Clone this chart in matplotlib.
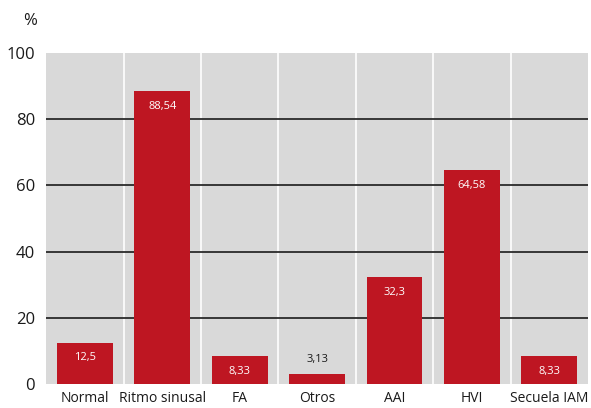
import matplotlib.pyplot as plt

categorias = ["Normal", "Ritmo sinusal", "FA", "Otros", "AAI", "HVI", "Secuela IAM"]
valores = [12.5, 88.54, 8.33, 3.13, 32.3, 64.58, 8.33]
etiquetas = ["12,5", "88,54", "8,33", "3,13", "32,3", "64,58", "8,33"]
yticks = [0, 20, 40, 60, 80, 100]

plt.rcParams["font.family"] = ["Open Sans", "DejaVu Sans"]

rojo = "#be1622"
fig = plt.figure(figsize=(5.91, 4.08), dpi=100)
ax = fig.add_axes([0.078, 0.059, 0.917, 0.811])
ax.set_facecolor("#d9d9d9")

x = list(range(len(categorias)))
ax.bar(x, valores, width=0.72, color=rojo, zorder=3)

# separadores blancos entre categorias
for i in range(1, len(categorias)):
    ax.axvline(i - 0.5, color="white", lw=1.2, zorder=1)
for yv in yticks[1:-1]:
    ax.axhline(yv, color="#2a2a2a", lw=1.3, zorder=2)

for xi, v, lab in zip(x, valores, etiquetas):
    if v < 5:
        ax.annotate(lab, (xi, v), xytext=(0, 6), textcoords="offset points",
                    ha="center", va="bottom", fontsize=8, color="#1a1a1a", zorder=4)
    else:
        off = -min(11, v * 3.31 / 2 * 0.72 + 1)
        ax.annotate(lab, (xi, v), xytext=(0, off), textcoords="offset points",
                    ha="center", va="center", fontsize=8, color="white", zorder=4)

ax.set_xlim(-0.5, len(categorias) - 0.5)
ax.set_ylim(0, 100)
ax.set_yticks(yticks)
ax.set_xticks(x)
ax.set_xticklabels(categorias, fontsize=10, color="#1a1a1a")
ax.tick_params(axis="y", labelsize=12, length=0, pad=8, colors="#1a1a1a")
ax.tick_params(axis="x", length=0, pad=5)
for s in ax.spines.values():
    s.set_visible(False)

fig.text(0.051, 0.948, "%", fontsize=12, ha="center", va="center", color="#1a1a1a")

fig.savefig("out.png", dpi=100)
